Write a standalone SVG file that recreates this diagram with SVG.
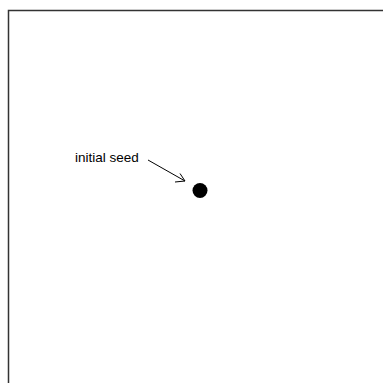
<svg xmlns="http://www.w3.org/2000/svg" width="383" height="383" viewBox="0 0 383 383">
<style>
.frame{fill:none;stroke:#333;stroke-width:1.5}
.lbl{font-family:"Liberation Sans",Arial,sans-serif;font-size:13.5px;fill:#000}
.conn{fill:none;stroke:#000;stroke-width:1}
</style>
<rect width="383" height="383" fill="#fff"/>
<path class="frame" d="M8.5,383 V10.5 H383"/>
<g id="seed"><circle cx="200" cy="190.5" r="7.5" fill="#000"/></g>
<g id="label"><text class="lbl" x="75" y="162">initial seed</text></g>
<g id="connectors">
<path class="conn" d="M148,160 L185,181"/>
<path class="conn" d="M175,182 L185,181 L180,173.5"/>
</g>
</svg>
